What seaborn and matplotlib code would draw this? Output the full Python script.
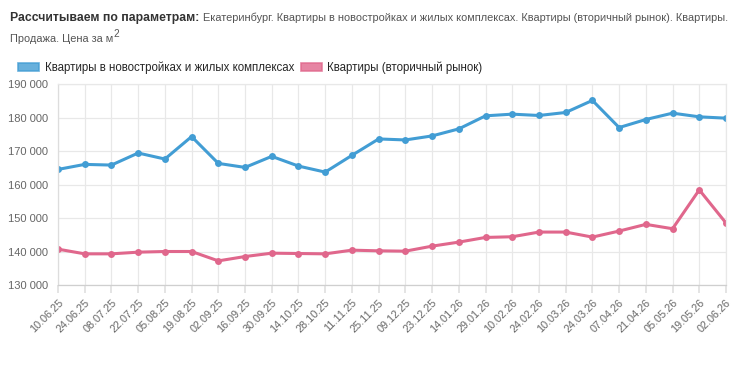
import matplotlib
matplotlib.use("Agg")
import matplotlib.pyplot as plt
import seaborn as sns
import pandas as pd
from matplotlib.patches import Patch
from matplotlib.ticker import FuncFormatter, MultipleLocator

dates = ["10.06.25", "24.06.25", "08.07.25", "22.07.25", "05.08.25", "19.08.25",
         "02.09.25", "16.09.25", "30.09.25", "14.10.25", "28.10.25", "11.11.25",
         "25.11.25", "09.12.25", "23.12.25", "14.01.26", "29.01.26", "10.02.26",
         "24.02.26", "10.03.26", "24.03.26", "07.04.26", "21.04.26", "05.05.26",
         "19.05.26", "02.06.26"]
new_flats = [164500, 166000, 165800, 169400, 167600, 174300, 166300, 165100,
             168400, 165500, 163700, 168700, 173600, 173300, 174500, 176600,
             180500, 181000, 180600, 181500, 185100, 177000, 179400, 181300,
             180200, 179800]
secondary = [140700, 139300, 139300, 139800, 140000, 140000, 137200, 138500,
             139500, 139400, 139300, 140400, 140200, 140100, 141600, 142800,
             144200, 144400, 145800, 145800, 144300, 146100, 148100, 146800,
             158400, 148500]
series_names = ["Квартиры в новостройках и жилых комплексах", "Квартиры (вторичный рынок)"]
colors = ["#429dd4", "#e0678c"]

df = pd.concat([
    pd.DataFrame({"idx": range(len(dates)), "value": new_flats, "series": series_names[0]}),
    pd.DataFrame({"idx": range(len(dates)), "value": secondary, "series": series_names[1]}),
])

sns.set_theme(style="white")
plt.rcParams["font.family"] = ["Liberation Sans", "DejaVu Sans"]
plt.rcParams["mathtext.fontset"] = "custom"
plt.rcParams["mathtext.rm"] = "Liberation Sans"

fig = plt.figure(figsize=(7.51, 3.70), dpi=100)
ax = fig.add_axes([58 / 751, 1 - 285 / 370, (726 - 58) / 751, (285 - 84) / 370])

sns.lineplot(data=df, x="idx", y="value", hue="series", palette=colors,
             marker="o", markersize=5, markeredgewidth=0, linewidth=2.2,
             legend=False, ax=ax)

ax.set_xlim(0, len(dates) - 1)
ax.set_ylim(130000, 190000)
ax.yaxis.set_major_locator(MultipleLocator(10000))
ax.yaxis.set_major_formatter(FuncFormatter(lambda v, p: f"{int(v):,}".replace(",", " ")))
ax.set_xticks(range(len(dates)))
ax.set_xticklabels(dates, rotation=45, ha="right", rotation_mode="anchor")
ax.set_xlabel("")
ax.set_ylabel("")
ax.grid(True, color="#e8e8e8", linewidth=0.9)
ax.set_axisbelow(True)
for s in ["top", "right"]:
    ax.spines[s].set_color("#e8e8e8")
ax.spines["left"].set_color("#dddddd")
ax.spines["bottom"].set_color("#cfcfcf")
for s in ax.spines.values():
    s.set_linewidth(0.9)
ax.tick_params(axis="x", length=6, color="#e0e0e0", labelsize=7.8, labelcolor="#666666", pad=3)
ax.tick_params(axis="y", length=0, labelsize=8, labelcolor="#666666", pad=7)
ax.tick_params(axis="x", bottom=True)

# title
renderer = fig.canvas.get_renderer()
t1 = fig.text(10 / 751, 1 - 18 / 370, "Рассчитываем по параметрам:", fontsize=8.8,
              fontweight="bold", color="#333333", va="center", ha="left")
bb = t1.get_window_extent(renderer=renderer)
fig.text((bb.x1 + 4) / 751, 1 - 18 / 370,
         "Екатеринбург. Квартиры в новостройках и жилых комплексах. Квартиры (вторичный рынок). Квартиры.",
         fontsize=7.9, color="#555555", va="center", ha="left")
t3 = fig.text(10 / 751, 1 - 39 / 370, "Продажа. Цена за м", fontsize=7.9,
              color="#555555", va="center", ha="left")
bb3 = t3.get_window_extent(renderer=renderer)
fig.text((bb3.x1 + 0.5) / 751, 1 - 34 / 370, "2", fontsize=7.2,
         color="#555555", va="center", ha="left")

# legend
handles = [Patch(facecolor=c, edgecolor=c, linewidth=1.2, alpha=0.8) for c in colors]
fig.legend(handles, series_names, loc="center left", bbox_to_anchor=(18 / 751, 1 - 68 / 370),
           ncol=2, frameon=False, fontsize=8.3, handlelength=1.8, handleheight=0.65,
           handletextpad=0.5, columnspacing=0.6, borderaxespad=0, borderpad=0)

fig.savefig("out.png", dpi=100)
